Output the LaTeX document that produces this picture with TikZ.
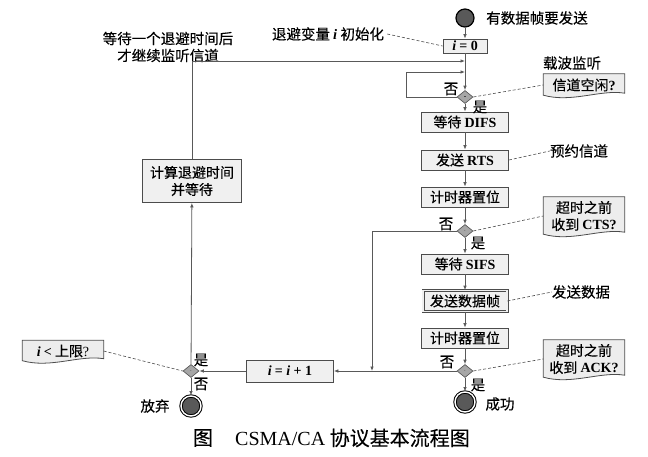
\documentclass[tikz,border=0pt]{standalone}
\usepackage{fontspec}
\setmainfont{Noto Sans CJK SC}[FakeBold=0.3]
\newfontfamily\tnr{Liberation Serif}
\usetikzlibrary{arrows.meta,shapes.geometric,calc,backgrounds}

% Latin parts set in a Times-like face
\newcommand\lat[1]{{\tnr\bfseries #1}}
\newcommand\iv{{\tnr\bfseries\itshape i}}

% wavy "document" outline behind a note node
\newcommand\docshape[1]{%
  \begin{pgfonlayer}{background}
    \filldraw[draw=black!70, fill=black!7, line width=0.8pt]
      (#1.north west) -- (#1.north east) -- ([yshift=3pt]#1.south east)
      .. controls ($(#1.south east)!0.3!(#1.south west)+(0,7pt)$)
             and ($(#1.south east)!0.65!(#1.south west)+(0,-7pt)$) ..
      ([yshift=1pt]#1.south west) -- cycle;
  \end{pgfonlayer}}

\tikzset{
  txt/.style={inner sep=0pt, font=\fontsize{14.5}{17}\selectfont, align=center},
  flow/.style={draw=black!65, line width=0.8pt},
  arr/.style={flow, -{Latex[length=4.5pt,width=3.6pt]}},
  note/.style={draw=black!70, line width=0.6pt, dash pattern=on 3pt off 2pt},
  stepbox/.style={draw=black!70, fill=black!6, line width=0.8pt,
    minimum width=87pt, minimum height=20pt, inner sep=0pt,
    font=\fontsize{14}{17}\selectfont, align=center},
  decision/.style={diamond, draw=black!70, fill=black!35, line width=0.6pt,
    minimum width=16pt, minimum height=13pt, inner sep=0pt,
    font=\fontsize{6}{6}\selectfont},
  startc/.style={circle, draw=black, fill=black!65, line width=1.2pt,
    minimum size=18pt, inner sep=0pt},
  endc/.style={circle, draw=black, fill=black!65, line width=1pt,
    double=white, double distance=1.4pt, minimum size=20pt, inner sep=0pt},
  docnote/.style={inner xsep=2pt, inner ysep=3pt, minimum width=81pt,
    font=\fontsize{14}{17}\selectfont, align=center},
}

\begin{document}
\begin{tikzpicture}[x=1pt,y=-1pt]
\useasboundingbox (0,0) rectangle (648,457);

% ---- main column ----
\node[startc] (start) at (465,18) {};
\node[txt] (startlbl) at (537,18) {有数据帧要发送};
\node[stepbox, minimum width=44pt, minimum height=14pt] (init) at (465,46) {\iv\ \lat{= 0}};
\node[txt] (initlbl) at (328,34) {退避变量 \iv\ 初始化};
\coordinate (j1) at (465,61);
\coordinate (j2) at (465,72);
\node[decision] (d1) at (465,97) {-};
\node[stepbox] (difs) at (465,122) {等待 \lat{DIFS}};
\node[stepbox] (rts) at (465,160) {发送 \lat{RTS}};
\node[stepbox] (tmr1) at (465,197) {计时器置位};
\node[decision] (d2) at (465,231) {$\cdot$};
\node[stepbox] (sifs) at (465,264) {等待 \lat{SIFS}};
\node[stepbox, double=black!6, double distance=1.6pt, line width=0.7pt,
      minimum width=84pt, minimum height=21pt] (data) at (465,301) {发送数据帧};
\node[stepbox] (tmr2) at (465,338) {计时器置位};
\node[decision] (d3) at (465,371) {$\cdot$};
\node[endc] (ok) at (465,402) {};
\node[txt] (oklbl) at (500,404) {成功};

% ---- back-off branch ----
\coordinate (m) at (372,371);
\node[stepbox, minimum height=22pt] (inc) at (290,371) {\iv\ \lat{= \itshape i \upshape + 1}};
\node[decision] (d4) at (191,371) {$\cdot$};
\node[endc] (quit) at (191,406) {};
\node[txt] (quitlbl) at (155,406) {放弃};
\node[stepbox, minimum width=99pt, minimum height=43pt] (backoff) at (192,181)
  {计算退避时间\\并等待};
\node[txt] (waitlbl) at (168,47) {等待一个退避时间后\\才继续监听信道};

% ---- notes ----
\node[docnote, minimum height=22pt] (idle) at (584,85) {信道空闲\lat{?}};
\node[txt] (carrier) at (572,63) {载波监听};
\node[txt] (rsvlbl) at (579,151) {预约信道};
\node[docnote, minimum height=38pt] (cts) at (584,216) {超时之前\\收到 \lat{CTS?}};
\node[txt] (datalbl) at (581,292) {发送数据};
\node[docnote, minimum height=38pt] (ack) at (584,359) {超时之前\\收到 \lat{ACK?}};
\node[docnote, minimum height=21pt] (limit) at (63,351) {\iv\ \lat{<} 上限{\tnr ?}};
\docshape{idle}
\docshape{cts}
\docshape{ack}
\docshape{limit}

% ---- yes / no marks ----
\node[txt] at (451,89) {否};
\node[txt] at (480,107) {是};
\node[txt] at (446,224) {否};
\node[txt] at (478,243) {是};
\node[txt] at (447,362) {否};
\node[txt] at (478,385) {是};
\node[txt] at (201,360) {是};
\node[txt] at (201,384) {否};

% ---- connectors ----
\draw[arr] (start) -- (init);
\draw[arr] (init) -- (d1);
\draw[arr] (d1.west) -- ++(-50,0) |- (j2);
\draw[arr] (d1) -- (difs);
\draw[arr] (difs) -- (rts);
\draw[arr] (rts) -- (tmr1);
\draw[arr] (tmr1) -- (d2);
\draw[arr] (d2) -- (sifs);
\draw[arr] (sifs) -- (data);
\draw[arr] (data) -- (tmr2);
\draw[arr] (tmr2) -- (d3);
\draw[arr] (d3) -- (ok);
\draw[arr] (d2.west) -| (m);
\draw[arr] (d3.west) -- (inc.east);
\draw[arr] (inc.west) -- (d4.east);
\draw[arr] (d4) -- (quit);
\draw[arr] (d4) -- (backoff);
\draw[arr] (backoff.north) |- (j1);

% dashed leaders
\draw[note] (initlbl.east) ++(3,0) -- (init.west);
\draw[note] (d1.east) -- (idle.west);
\draw[note] (rts.east) -- (rsvlbl.west);
\draw[note] (d2.east) -- (cts.west);
\draw[note] (data.east) -- (datalbl.west);
\draw[note] (d3.east) -- (ack.west);
\draw[note] (limit.east) -- (d4.west);

% ---- caption ----
\node[inner sep=0pt, font=\fontsize{20}{22}\selectfont] (figmark) at (203,438) {图};
\node[inner sep=0pt, anchor=west, font=\fontsize{20}{22}\selectfont] (caption) at (235,438)
  {{\tnr CSMA/CA} 协议基本流程图};
\end{tikzpicture}
\end{document}
